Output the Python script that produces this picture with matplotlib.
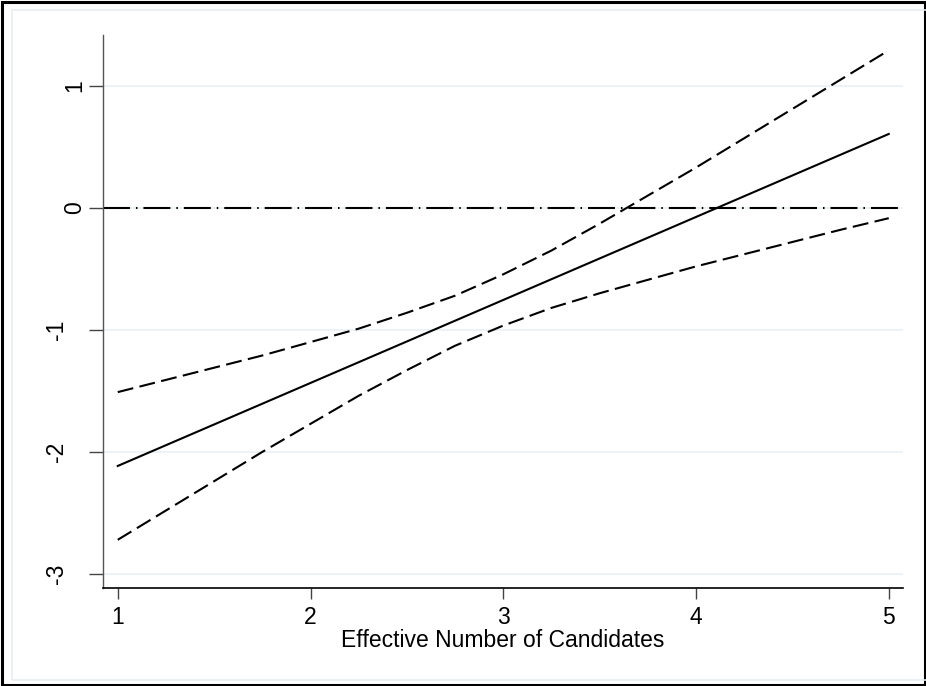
import numpy as np
import matplotlib
matplotlib.use('Agg')
import matplotlib.pyplot as plt
from matplotlib.patches import Rectangle

plt.rcParams['font.family'] = ['Liberation Sans', 'DejaVu Sans']
plt.rcParams['lines.scale_dashes'] = False

# values
enc = [1, 1.25, 1.5, 1.75, 2, 2.25, 2.5, 2.75, 3,
       3.25, 3.5, 3.75, 4, 4.25, 4.5, 4.75, 5]
effect = [-2.115, -1.945, -1.775, -1.605, -1.435, -1.265, -1.095, -0.925, -0.755,
          -0.585, -0.415, -0.245, -0.075, 0.095, 0.265, 0.435, 0.605]
upper = [-1.51, -1.41, -1.31, -1.21, -1.10, -0.99, -0.86, -0.72, -0.545,
         -0.35, -0.13, 0.10, 0.33, 0.57, 0.81, 1.05, 1.29]
lower = [-2.72, -2.48, -2.24, -2.00, -1.77, -1.54, -1.33, -1.13, -0.965,
         -0.82, -0.70, -0.59, -0.48, -0.38, -0.28, -0.18, -0.085]
xticks = [1, 2, 3, 4, 5]
yticks = [-3, -2, -1, 0, 1]

fig = plt.figure(figsize=(9.26, 6.86), dpi=100)
W, H = 926, 686
ax = fig.add_axes([103.3/W, 1-588/H, (903-103.3)/W, (588-35)/H])

# outer frame + light inner frame (stata style)
fig.patches.append(Rectangle((1.5/W, 1.5/H), 1-3/W, 1-3/H, transform=fig.transFigure,
                             fill=False, ec='black', lw=2.2))
fig.patches.append(Rectangle((12/W, 1-680/H), 1, (680-10)/H, transform=fig.transFigure,
                             fill=False, ec='#e6eef1', lw=1.2))

for y in yticks:
    ax.axhline(y, color='#e8f0f2', lw=1.1, zorder=0)
ax.axhline(0, color='black', lw=1.5, dashes=(19.4, 4.3, 1.1, 4.3), zorder=2)

ax.plot(enc, effect, color='black', lw=1.5, zorder=3)
ax.plot(enc, upper, color='black', lw=1.5, dashes=(11.5, 4.6), zorder=3)
ax.plot(enc, lower, color='black', lw=1.5, dashes=(11.5, 4.6), zorder=3)

ax.set_xlim(0.925, 5.074)
ax.set_ylim(-3.115, 1.416)
ax.set_xticks(xticks)
ax.set_xticklabels([str(v) for v in xticks], fontsize=16.5)
ax.set_yticks(yticks)
ax.set_yticklabels([])
ax.tick_params(axis='x', length=8, width=1, color='#444444', pad=5)
ax.tick_params(axis='y', length=10, width=1, color='#444444')

# stata puts the rotated labels with minus signs a bit further left
ytr = ax.get_yaxis_transform()
for y in yticks:
    xpx = 75 if y >= 0 else 56.5
    ax.text((xpx-103.3)/800, y, str(y), rotation=90, ha='center', va='center',
            fontsize=16.5, transform=ytr)

ax.set_xlabel('Effective Number of Candidates', fontsize=16.5, labelpad=0)

for s in ['top', 'right']:
    ax.spines[s].set_visible(False)
ax.spines['left'].set_color('#555555')
ax.spines['bottom'].set_color('black')
ax.spines['left'].set_linewidth(1)
ax.spines['bottom'].set_linewidth(1.2)

fig.savefig('out.png', dpi=100)
